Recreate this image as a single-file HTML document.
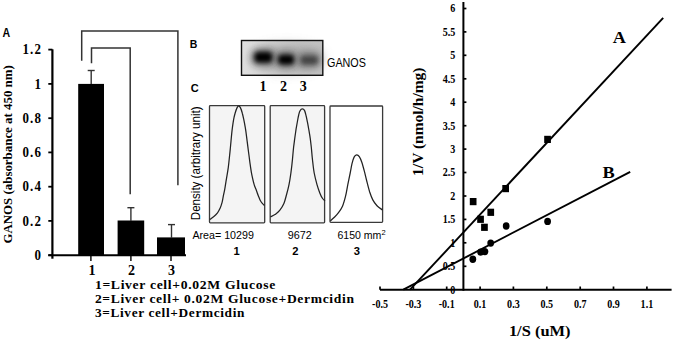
<!DOCTYPE html>
<html><head><meta charset="utf-8"><style>
html,body{margin:0;padding:0;background:#fff;width:675px;height:343px;overflow:hidden}
svg{display:block}
</style></head><body>
<svg width="675" height="343" viewBox="0 0 675 343">
<rect width="675" height="343" fill="#fff"/>
<text transform="translate(2.6,36.8) scale(0.78,1)" style="font-family:'Liberation Sans',sans-serif;font-weight:bold;font-size:13.6px">A</text>
<line x1="52.4" y1="49.3" x2="52.4" y2="258.7" stroke="#000" stroke-width="2.2"/>
<line x1="48.3" y1="255.2" x2="52.4" y2="255.2" stroke="#000" stroke-width="1.8"/>
<text transform="translate(42.0,259.9) scale(0.9,1)" text-anchor="end" style="font-family:'Liberation Serif',serif;font-weight:bold;font-size:14.4px;letter-spacing:1.2px">0</text>
<line x1="48.3" y1="220.9" x2="52.4" y2="220.9" stroke="#000" stroke-width="1.8"/>
<text transform="translate(42.0,225.6) scale(0.9,1)" text-anchor="end" style="font-family:'Liberation Serif',serif;font-weight:bold;font-size:14.4px;letter-spacing:1.2px">0.2</text>
<line x1="48.3" y1="186.7" x2="52.4" y2="186.7" stroke="#000" stroke-width="1.8"/>
<text transform="translate(42.0,191.4) scale(0.9,1)" text-anchor="end" style="font-family:'Liberation Serif',serif;font-weight:bold;font-size:14.4px;letter-spacing:1.2px">0.4</text>
<line x1="48.3" y1="152.4" x2="52.4" y2="152.4" stroke="#000" stroke-width="1.8"/>
<text transform="translate(42.0,157.1) scale(0.9,1)" text-anchor="end" style="font-family:'Liberation Serif',serif;font-weight:bold;font-size:14.4px;letter-spacing:1.2px">0.6</text>
<line x1="48.3" y1="118.2" x2="52.4" y2="118.2" stroke="#000" stroke-width="1.8"/>
<text transform="translate(42.0,122.9) scale(0.9,1)" text-anchor="end" style="font-family:'Liberation Serif',serif;font-weight:bold;font-size:14.4px;letter-spacing:1.2px">0.8</text>
<line x1="48.3" y1="83.9" x2="52.4" y2="83.9" stroke="#000" stroke-width="1.8"/>
<text transform="translate(42.0,88.6) scale(0.9,1)" text-anchor="end" style="font-family:'Liberation Serif',serif;font-weight:bold;font-size:14.4px;letter-spacing:1.2px">1</text>
<line x1="48.3" y1="49.6" x2="52.4" y2="49.6" stroke="#000" stroke-width="1.8"/>
<text transform="translate(42.0,54.3) scale(0.9,1)" text-anchor="end" style="font-family:'Liberation Serif',serif;font-weight:bold;font-size:14.4px;letter-spacing:1.2px">1.2</text>
<line x1="48.3" y1="255.2" x2="186" y2="255.2" stroke="#000" stroke-width="2"/>
<line x1="90.9" y1="255" x2="90.9" y2="261" stroke="#000" stroke-width="1.4"/>
<line x1="130.9" y1="255" x2="130.9" y2="261" stroke="#000" stroke-width="1.4"/>
<line x1="171.0" y1="255" x2="171.0" y2="261" stroke="#000" stroke-width="1.4"/>
<rect x="78.2" y="83.9" width="25.8" height="171.3" fill="#000"/>
<rect x="117.6" y="220.5" width="26.6" height="34.7" fill="#000"/>
<rect x="157" y="237.4" width="28" height="17.8" fill="#000"/>
<line x1="91.2" y1="70.5" x2="91.2" y2="83.9" stroke="#333" stroke-width="1.4"/>
<line x1="87.7" y1="70.5" x2="94.7" y2="70.5" stroke="#333" stroke-width="1.4"/>
<line x1="130.9" y1="207.7" x2="130.9" y2="220.9" stroke="#333" stroke-width="1.4"/>
<line x1="127.4" y1="207.7" x2="134.4" y2="207.7" stroke="#333" stroke-width="1.4"/>
<line x1="171.5" y1="224.6" x2="171.5" y2="238.1" stroke="#333" stroke-width="1.4"/>
<line x1="168.0" y1="224.6" x2="175.0" y2="224.6" stroke="#333" stroke-width="1.4"/>
<polyline points="81.7,60.7 81.7,31.1 177.9,31.1 177.9,185.2" fill="none" stroke="#333" stroke-width="1.5"/>
<polyline points="91.5,63.2 91.5,48 130.2,48 130.2,194.2" fill="none" stroke="#333" stroke-width="1.5"/>
<text x="92.1" y="274.6" text-anchor="middle" style="font-family:'Liberation Serif',serif;font-weight:bold;font-size:14px">1</text>
<text x="131.5" y="274.6" text-anchor="middle" style="font-family:'Liberation Serif',serif;font-weight:bold;font-size:14px">2</text>
<text x="171.5" y="274.6" text-anchor="middle" style="font-family:'Liberation Serif',serif;font-weight:bold;font-size:14px">3</text>
<text x="94.9" y="289.2" textLength="181.1" lengthAdjust="spacingAndGlyphs" style="font-family:'Liberation Serif',serif;font-weight:bold;font-size:12.3px;letter-spacing:0.6px">1=Liver cell+0.02M Glucose</text>
<text x="94.9" y="303.2" textLength="259.7" lengthAdjust="spacingAndGlyphs" style="font-family:'Liberation Serif',serif;font-weight:bold;font-size:12.3px;letter-spacing:0.6px">2=Liver cell+ 0.02M Glucose+Dermcidin</text>
<text x="94.9" y="317.2" textLength="150.2" lengthAdjust="spacingAndGlyphs" style="font-family:'Liberation Serif',serif;font-weight:bold;font-size:12.3px;letter-spacing:0.6px">3=Liver cell+Dermcidin</text>
<text transform="translate(12.2,243.6) rotate(-90)" textLength="178.4" lengthAdjust="spacingAndGlyphs" style="font-family:'Liberation Serif',serif;font-weight:bold;font-size:13px">GANOS (absorbance at 450 nm)</text>
<text x="189.8" y="47.6" style="font-family:'Liberation Sans',sans-serif;font-weight:bold;font-size:10.5px">B</text>
<defs>
<linearGradient id="bg" x1="0" x2="1" y1="0" y2="0">
<stop offset="0" stop-color="#e0e0e0"/><stop offset="0.5" stop-color="#d2d2d2"/><stop offset="1" stop-color="#c2c2c2"/>
</linearGradient>
<filter id="bl" x="-50%" y="-50%" width="200%" height="200%"><feGaussianBlur stdDeviation="1.9"/></filter>
<filter id="bl2" x="-50%" y="-50%" width="200%" height="200%"><feGaussianBlur stdDeviation="3"/></filter>
<filter id="bl3" x="-50%" y="-50%" width="200%" height="200%"><feGaussianBlur stdDeviation="6"/></filter>
</defs>
<rect x="241.5" y="40.5" width="81.3" height="34.8" fill="url(#bg)"/>
<ellipse cx="287" cy="58.5" rx="37" ry="14" fill="#777" opacity="0.4" filter="url(#bl3)"/>
<rect x="251.5" y="49" width="23.5" height="16.5" rx="7" fill="#222" opacity="0.6" filter="url(#bl2)"/>
<rect x="255" y="52.5" width="16.6" height="9.5" rx="4" fill="#000" filter="url(#bl)"/>
<rect x="275.5" y="51.5" width="21" height="16" rx="7" fill="#222" opacity="0.55" filter="url(#bl2)"/>
<rect x="278.6" y="55.3" width="15" height="8.8" rx="3.8" fill="#000" filter="url(#bl)"/>
<rect x="297.5" y="52" width="23" height="16" rx="7" fill="#555" opacity="0.55" filter="url(#bl2)"/>
<rect x="301" y="56.3" width="16.5" height="7.8" rx="3.5" fill="#3a3a3a" opacity="0.85" filter="url(#bl)"/>
<rect x="241.5" y="40.5" width="81.3" height="34.8" fill="none" stroke="#111" stroke-width="1.4"/>
<text x="327.0" y="66.9" textLength="38.9" lengthAdjust="spacingAndGlyphs" style="font-family:'Liberation Sans',sans-serif;font-size:13.7px">GANOS</text>
<text x="263.0" y="90.9" text-anchor="middle" style="font-family:'Liberation Serif',serif;font-weight:bold;font-size:14px">1</text>
<text x="283.6" y="90.9" text-anchor="middle" style="font-family:'Liberation Serif',serif;font-weight:bold;font-size:14px">2</text>
<text x="303.2" y="90.9" text-anchor="middle" style="font-family:'Liberation Serif',serif;font-weight:bold;font-size:14px">3</text>
<text x="190.7" y="92.2" style="font-family:'Liberation Sans',sans-serif;font-weight:bold;font-size:11px">C</text>
<rect x="209.5" y="105.7" width="55.2" height="117.1" rx="0.8" fill="#f4f4f4" stroke="#3a3a3a" stroke-width="1.3"/>
<rect x="270.2" y="105.7" width="54.4" height="117.1" rx="0.8" fill="#f4f4f4" stroke="#3a3a3a" stroke-width="1.3"/>
<rect x="330" y="106" width="52.6" height="116.4" rx="0.8" fill="#fff" stroke="#3a3a3a" stroke-width="1.3"/>
<path d="M209.8,219.6 C210.4,219.1 212.3,217.8 213.6,216.7 C214.9,215.6 216.4,214.2 217.5,212.8 C218.6,211.4 219.3,209.9 220.1,208.2 C220.9,206.4 221.5,204.4 222.1,202.3 C222.7,200.2 222.9,198.0 223.4,195.7 C223.9,193.4 224.4,191.3 224.9,188.3 C225.4,185.3 226.0,181.3 226.6,177.8 C227.2,174.3 227.8,171.0 228.3,167.3 C228.8,163.6 229.2,159.0 229.6,155.5 C230.0,152.0 230.2,149.6 230.5,146.5 C230.8,143.4 231.1,140.0 231.4,136.8 C231.7,133.7 232.0,130.4 232.4,127.6 C232.8,124.8 233.2,122.1 233.6,119.7 C234.0,117.3 234.5,115.2 235.1,113.2 C235.7,111.2 236.4,109.1 237.0,107.9 C237.6,106.7 238.1,105.9 238.7,105.9 C239.3,105.9 239.9,106.7 240.5,107.9 C241.1,109.1 241.8,111.2 242.3,113.2 C242.9,115.2 243.3,117.3 243.8,119.7 C244.3,122.1 244.8,124.8 245.3,127.6 C245.8,130.4 246.2,133.5 246.6,136.8 C247.0,140.1 247.5,144.1 247.9,147.2 C248.3,150.3 248.6,152.6 249.0,155.5 C249.4,158.4 249.7,161.4 250.2,164.7 C250.7,168.0 251.2,171.9 251.9,175.2 C252.6,178.5 253.3,181.8 254.1,184.4 C254.8,187.0 255.7,188.6 256.4,190.5 C257.1,192.4 257.6,194.0 258.3,195.7 C259.0,197.4 259.6,199.2 260.3,200.5 C261.0,201.8 261.6,202.6 262.3,203.4 C263.0,204.2 264.0,205.2 264.4,205.5" fill="none" stroke="#222" stroke-width="1.25" stroke-linejoin="round"/>
<path d="M270.5,216.9 C271.2,216.5 273.5,215.7 275.0,214.6 C276.5,213.5 278.2,212.3 279.7,210.4 C281.2,208.5 282.7,206.1 283.9,203.4 C285.1,200.7 285.8,197.1 286.7,194.0 C287.6,190.9 288.3,188.2 289.0,184.7 C289.7,181.2 290.3,177.3 290.9,173.0 C291.5,168.7 292.1,163.3 292.5,159.0 C292.9,154.7 293.2,150.8 293.6,147.3 C294.0,143.8 294.4,141.2 294.8,138.1 C295.2,135.0 295.7,131.8 296.1,128.9 C296.6,126.1 297.1,123.4 297.5,121.0 C297.9,118.6 298.4,116.2 298.8,114.5 C299.2,112.8 299.5,111.5 300.1,110.6 C300.7,109.6 301.6,108.8 302.3,108.8 C303.1,108.8 304.0,109.4 304.6,110.6 C305.2,111.8 305.6,113.8 306.1,115.8 C306.6,117.8 307.0,120.0 307.5,122.4 C308.0,124.8 308.4,127.6 308.9,130.2 C309.3,132.8 309.8,135.2 310.2,138.1 C310.6,140.9 310.9,143.8 311.3,147.3 C311.7,150.8 311.9,154.7 312.4,159.0 C312.9,163.3 313.4,168.7 314.2,173.0 C315.0,177.3 316.1,181.4 317.0,184.7 C317.9,188.0 318.9,190.6 319.8,192.9 C320.7,195.2 321.7,197.2 322.6,198.5 C323.5,199.8 324.6,200.6 325.0,201.0" fill="none" stroke="#222" stroke-width="1.25" stroke-linejoin="round"/>
<path d="M330.3,220.9 C330.9,220.4 332.4,219.2 333.8,217.8 C335.2,216.4 337.1,214.6 338.5,212.7 C339.9,210.8 341.3,208.9 342.5,206.2 C343.7,203.5 344.6,200.0 345.5,196.4 C346.4,192.8 347.0,188.6 347.8,184.7 C348.6,180.8 349.5,176.5 350.2,173.0 C350.9,169.5 351.4,166.3 352.0,163.7 C352.6,161.0 353.3,158.6 354.1,157.1 C354.9,155.6 355.8,155.0 356.7,154.9 C357.6,154.8 358.4,155.4 359.3,156.7 C360.2,158.0 361.1,160.2 361.9,162.5 C362.7,164.8 363.4,167.8 364.2,170.7 C365.0,173.6 365.6,176.5 366.5,180.0 C367.4,183.5 368.6,188.4 369.6,191.7 C370.7,195.0 371.6,197.6 372.8,199.9 C374.0,202.2 375.4,204.0 377.0,205.7 C378.6,207.4 381.5,209.2 382.4,209.9" fill="none" stroke="#222" stroke-width="1.25" stroke-linejoin="round"/>
<text transform="translate(200.4,220.2) rotate(-90)" textLength="113.8" lengthAdjust="spacingAndGlyphs" style="font-family:'Liberation Sans',sans-serif;font-size:12.4px">Density (arbitrary unit)</text>
<text x="192.4" y="238.5" textLength="61.5" lengthAdjust="spacingAndGlyphs" style="font-family:'Liberation Sans',sans-serif;font-size:11.2px">Area= 10299</text>
<text x="287.7" y="238.5" textLength="24" lengthAdjust="spacingAndGlyphs" style="font-family:'Liberation Sans',sans-serif;font-size:11.2px">9672</text>
<text x="337.4" y="238.5" textLength="44" lengthAdjust="spacingAndGlyphs" style="font-family:'Liberation Sans',sans-serif;font-size:11.2px">6150 mm</text>
<text x="381.5" y="234.5" style="font-family:'Liberation Sans',sans-serif;font-size:7.5px">2</text>
<text x="236.5" y="254.8" text-anchor="middle" style="font-family:'Liberation Sans',sans-serif;font-weight:bold;font-size:11.2px">1</text>
<text x="295.3" y="254.8" text-anchor="middle" style="font-family:'Liberation Sans',sans-serif;font-weight:bold;font-size:11.2px">2</text>
<text x="356.8" y="254.8" text-anchor="middle" style="font-family:'Liberation Sans',sans-serif;font-weight:bold;font-size:11.2px">3</text>
<line x1="463.4" y1="2" x2="463.4" y2="290.7" stroke="#000" stroke-width="2"/>
<text transform="translate(455.3,293.6) scale(0.8,1)" text-anchor="end" style="font-family:'Liberation Serif',serif;font-weight:bold;font-size:12.6px">0</text>
<line x1="463.4" y1="266.3" x2="466.4" y2="266.3" stroke="#000" stroke-width="1.7"/>
<text transform="translate(455.3,270.2) scale(0.8,1)" text-anchor="end" style="font-family:'Liberation Serif',serif;font-weight:bold;font-size:12.6px">0.5</text>
<line x1="463.4" y1="242.8" x2="466.4" y2="242.8" stroke="#000" stroke-width="1.7"/>
<text transform="translate(455.3,246.7) scale(0.8,1)" text-anchor="end" style="font-family:'Liberation Serif',serif;font-weight:bold;font-size:12.6px">1</text>
<line x1="463.4" y1="219.4" x2="466.4" y2="219.4" stroke="#000" stroke-width="1.7"/>
<text transform="translate(455.3,223.3) scale(0.8,1)" text-anchor="end" style="font-family:'Liberation Serif',serif;font-weight:bold;font-size:12.6px">1.5</text>
<line x1="463.4" y1="196.0" x2="466.4" y2="196.0" stroke="#000" stroke-width="1.7"/>
<text transform="translate(455.3,199.9) scale(0.8,1)" text-anchor="end" style="font-family:'Liberation Serif',serif;font-weight:bold;font-size:12.6px">2</text>
<line x1="463.4" y1="172.5" x2="466.4" y2="172.5" stroke="#000" stroke-width="1.7"/>
<text transform="translate(455.3,176.4) scale(0.8,1)" text-anchor="end" style="font-family:'Liberation Serif',serif;font-weight:bold;font-size:12.6px">2.5</text>
<line x1="463.4" y1="149.1" x2="466.4" y2="149.1" stroke="#000" stroke-width="1.7"/>
<text transform="translate(455.3,153.0) scale(0.8,1)" text-anchor="end" style="font-family:'Liberation Serif',serif;font-weight:bold;font-size:12.6px">3</text>
<line x1="463.4" y1="125.7" x2="466.4" y2="125.7" stroke="#000" stroke-width="1.7"/>
<text transform="translate(455.3,129.6) scale(0.8,1)" text-anchor="end" style="font-family:'Liberation Serif',serif;font-weight:bold;font-size:12.6px">3.5</text>
<line x1="463.4" y1="102.2" x2="466.4" y2="102.2" stroke="#000" stroke-width="1.7"/>
<text transform="translate(455.3,106.1) scale(0.8,1)" text-anchor="end" style="font-family:'Liberation Serif',serif;font-weight:bold;font-size:12.6px">4</text>
<line x1="463.4" y1="78.8" x2="466.4" y2="78.8" stroke="#000" stroke-width="1.7"/>
<text transform="translate(455.3,82.7) scale(0.8,1)" text-anchor="end" style="font-family:'Liberation Serif',serif;font-weight:bold;font-size:12.6px">4.5</text>
<line x1="463.4" y1="55.3" x2="466.4" y2="55.3" stroke="#000" stroke-width="1.7"/>
<text transform="translate(455.3,59.2) scale(0.8,1)" text-anchor="end" style="font-family:'Liberation Serif',serif;font-weight:bold;font-size:12.6px">5</text>
<line x1="463.4" y1="31.9" x2="466.4" y2="31.9" stroke="#000" stroke-width="1.7"/>
<text transform="translate(455.3,35.8) scale(0.8,1)" text-anchor="end" style="font-family:'Liberation Serif',serif;font-weight:bold;font-size:12.6px">5.5</text>
<line x1="463.4" y1="8.5" x2="466.4" y2="8.5" stroke="#000" stroke-width="1.7"/>
<text transform="translate(455.3,12.4) scale(0.8,1)" text-anchor="end" style="font-family:'Liberation Serif',serif;font-weight:bold;font-size:12.6px">6</text>
<line x1="380" y1="289.7" x2="671.6" y2="289.7" stroke="#000" stroke-width="2.1"/>
<line x1="380.0" y1="289.7" x2="380.0" y2="286.5" stroke="#000" stroke-width="1.7"/>
<text transform="translate(380.0,307.7) scale(0.8,1)" text-anchor="middle" style="font-family:'Liberation Serif',serif;font-weight:bold;font-size:12.6px">-0.5</text>
<line x1="413.4" y1="289.7" x2="413.4" y2="286.5" stroke="#000" stroke-width="1.7"/>
<text transform="translate(413.4,307.7) scale(0.8,1)" text-anchor="middle" style="font-family:'Liberation Serif',serif;font-weight:bold;font-size:12.6px">-0.3</text>
<line x1="446.7" y1="289.7" x2="446.7" y2="286.5" stroke="#000" stroke-width="1.7"/>
<text transform="translate(446.7,307.7) scale(0.8,1)" text-anchor="middle" style="font-family:'Liberation Serif',serif;font-weight:bold;font-size:12.6px">-0.1</text>
<line x1="480.1" y1="289.7" x2="480.1" y2="286.5" stroke="#000" stroke-width="1.7"/>
<text transform="translate(480.1,307.7) scale(0.8,1)" text-anchor="middle" style="font-family:'Liberation Serif',serif;font-weight:bold;font-size:12.6px">0.1</text>
<line x1="513.4" y1="289.7" x2="513.4" y2="286.5" stroke="#000" stroke-width="1.7"/>
<text transform="translate(513.4,307.7) scale(0.8,1)" text-anchor="middle" style="font-family:'Liberation Serif',serif;font-weight:bold;font-size:12.6px">0.3</text>
<line x1="546.8" y1="289.7" x2="546.8" y2="286.5" stroke="#000" stroke-width="1.7"/>
<text transform="translate(546.8,307.7) scale(0.8,1)" text-anchor="middle" style="font-family:'Liberation Serif',serif;font-weight:bold;font-size:12.6px">0.5</text>
<line x1="580.2" y1="289.7" x2="580.2" y2="286.5" stroke="#000" stroke-width="1.7"/>
<text transform="translate(580.2,307.7) scale(0.8,1)" text-anchor="middle" style="font-family:'Liberation Serif',serif;font-weight:bold;font-size:12.6px">0.7</text>
<line x1="613.5" y1="289.7" x2="613.5" y2="286.5" stroke="#000" stroke-width="1.7"/>
<text transform="translate(613.5,307.7) scale(0.8,1)" text-anchor="middle" style="font-family:'Liberation Serif',serif;font-weight:bold;font-size:12.6px">0.9</text>
<line x1="646.9" y1="289.7" x2="646.9" y2="286.5" stroke="#000" stroke-width="1.7"/>
<text transform="translate(646.9,307.7) scale(0.8,1)" text-anchor="middle" style="font-family:'Liberation Serif',serif;font-weight:bold;font-size:12.6px">1.1</text>
<text x="508.9" y="335.7" textLength="61.6" lengthAdjust="spacingAndGlyphs" style="font-family:'Liberation Serif',serif;font-weight:bold;font-size:14.2px">1/S (uM)</text>
<text transform="translate(423.1,175.9) rotate(-90)" textLength="108.4" lengthAdjust="spacingAndGlyphs" style="font-family:'Liberation Serif',serif;font-weight:bold;font-size:15px">1/V (nmol/h/mg)</text>
<line x1="410.0" y1="289.7" x2="663.2" y2="17.9" stroke="#000" stroke-width="1.9"/>
<line x1="403.3" y1="289.7" x2="630.2" y2="171.8" stroke="#000" stroke-width="1.9"/>
<text x="612.8" y="43.0" textLength="13.2" lengthAdjust="spacingAndGlyphs" style="font-family:'Liberation Serif',serif;font-weight:bold;font-size:15.8px">A</text>
<text x="602.6" y="178.2" textLength="12.2" lengthAdjust="spacingAndGlyphs" style="font-family:'Liberation Serif',serif;font-weight:bold;font-size:16px">B</text>
<rect x="544.2" y="135.8" width="6.7" height="7.2" fill="#000"/>
<rect x="469.8" y="198.0" width="6.7" height="7.2" fill="#000"/>
<rect x="502.3" y="185.0" width="6.7" height="7.2" fill="#000"/>
<rect x="487.4" y="208.7" width="6.7" height="7.2" fill="#000"/>
<rect x="477.2" y="215.7" width="6.7" height="7.2" fill="#000"/>
<rect x="481.1" y="223.7" width="6.7" height="7.2" fill="#000"/>
<ellipse cx="472.8" cy="259.2" rx="3.4" ry="3.7" fill="#000"/>
<ellipse cx="480.6" cy="252.1" rx="3.4" ry="3.7" fill="#000"/>
<ellipse cx="484.9" cy="251.6" rx="3.4" ry="3.7" fill="#000"/>
<ellipse cx="490.7" cy="243.1" rx="3.4" ry="3.7" fill="#000"/>
<ellipse cx="506.2" cy="226.0" rx="3.4" ry="3.7" fill="#000"/>
<ellipse cx="547.6" cy="221.4" rx="3.4" ry="3.7" fill="#000"/>
</svg>
</body></html>
